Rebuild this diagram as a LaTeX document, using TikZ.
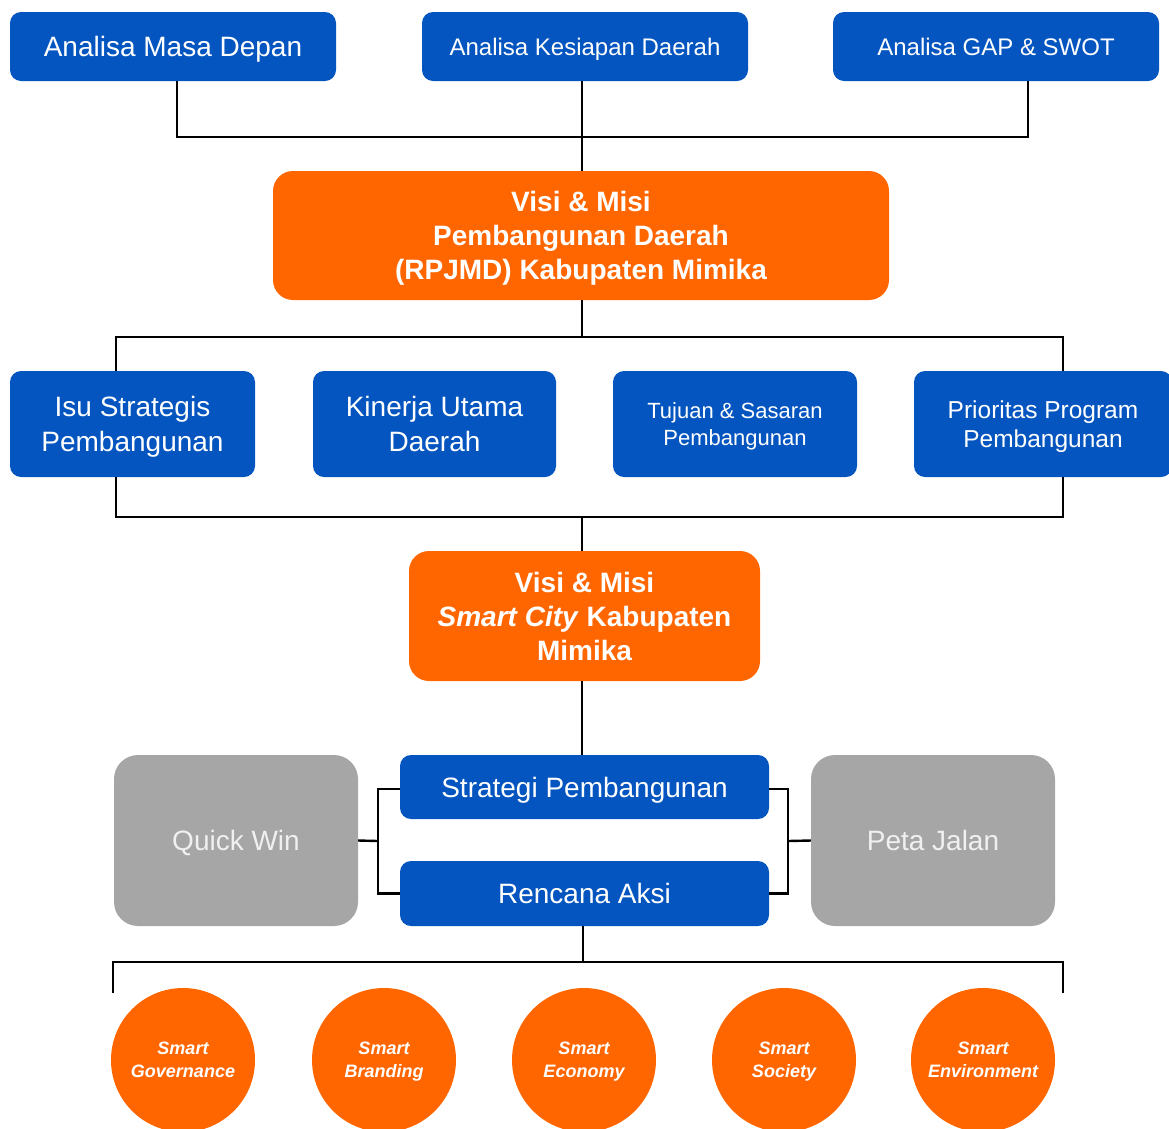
\documentclass[tikz,border=0pt]{standalone}
\usepackage{fontspec}
\setmainfont{Liberation Sans}
\definecolor{bblue}{RGB}{4,85,191}
\definecolor{borange}{RGB}{255,102,0}
\definecolor{bgray}{RGB}{166,166,166}
\begin{document}
\begin{tikzpicture}[x=1pt,y=-1pt,
  box/.style={rectangle, inner sep=0pt, text=white, align=center, text depth=0pt},
  bluebox/.style={box, fill=bblue, rounded corners=11pt},
  orangebox/.style={box, fill=borange, rounded corners=20pt, font=\bfseries\fontsize{28}{34}\selectfont},
  graybox/.style={box, fill=bgray, rounded corners=24pt, text=white!94!black, font=\fontsize{28}{34}\selectfont},
  dot/.style={circle, fill=borange, inner sep=0pt, minimum size=144pt, text=white, align=center, text depth=0pt, font=\bfseries\itshape\fontsize{18}{23}\selectfont},
  conn/.style={line width=2.4pt, black, line join=miter}]
\useasboundingbox (0,0) rectangle (1169,1128);

% top row
\node[bluebox, minimum width=326pt, minimum height=69pt, font=\fontsize{28}{34}\selectfont] (amd) at (173,46.5) {Analisa Masa Depan};
\node[bluebox, minimum width=326pt, minimum height=69pt, font=\fontsize{24}{30}\selectfont] (akd) at (585,46.5) {Analisa Kesiapan Daerah};
\node[bluebox, minimum width=326pt, minimum height=69pt, font=\fontsize{24}{30}\selectfont] (gap) at (996,46.5) {Analisa GAP \& SWOT};

% RPJMD
\node[orangebox, minimum width=616pt, minimum height=129pt] (rpjmd) at (581,235.5) {Visi \& Misi\\Pembangunan Daerah\\(RPJMD) Kabupaten Mimika};

% second row
\node[bluebox, minimum width=245pt, minimum height=106pt, font=\fontsize{28}{35}\selectfont] (isu) at (132.5,424) {Isu Strategis\\Pembangunan};
\node[bluebox, minimum width=243pt, minimum height=106pt, font=\fontsize{28}{35}\selectfont] (kin) at (434.5,424) {Kinerja Utama\\Daerah};
\node[bluebox, minimum width=244pt, minimum height=106pt, font=\fontsize{22}{27}\selectfont] (tuj) at (735,424) {Tujuan \& Sasaran\\Pembangunan};
\node[bluebox, minimum width=258pt, minimum height=106pt, font=\fontsize{24.5}{29}\selectfont] (pri) at (1043,424) {Prioritas Program\\Pembangunan};

% Smart City
\node[orangebox, minimum width=351pt, minimum height=130pt] (sc) at (584.5,616) {Visi \& Misi\\\textit{Smart City} Kabupaten\\Mimika};

% strategy
\node[bluebox, minimum width=369pt, minimum height=64pt, font=\fontsize{28}{34}\selectfont] (strat) at (584.5,787) {Strategi Pembangunan};
\node[bluebox, minimum width=369pt, minimum height=65pt, font=\fontsize{28}{34}\selectfont] (ra) at (584.5,893.5) {Rencana Aksi};
\node[graybox, minimum width=244pt, minimum height=171pt] (qw) at (236,840.5) {Quick Win};
\node[graybox, minimum width=244pt, minimum height=171pt] (pj) at (933,840.5) {Peta Jalan};

% circles
\node[dot] (c1) at (183,1060) {Smart\\Governance};
\node[dot] (c2) at (384,1060) {Smart\\Branding};
\node[dot] (c3) at (584,1060) {Smart\\Economy};
\node[dot] (c4) at (784,1060) {Smart\\Society};
\node[dot] (c5) at (983,1060) {Smart\\Environment};

% junction coordinates
\coordinate (j1) at (582,137);
\coordinate (j2) at (582,337);
\coordinate (j3) at (582,517);
\coordinate (j4) at (583,962);
\coordinate (l2) at (116,0);
\coordinate (r2) at (1063,0);
\coordinate (lb) at (378,841);
\coordinate (rb) at (788,841);
\coordinate (b1) at (113,993);
\coordinate (b2) at (1063,993);

% connectors
\draw[conn] (amd.south -| 177,0) |- (j1) -| (gap.south -| 1028,0);
\draw[conn] (akd.south -| j1) -- (rpjmd.north -| j1);
\draw[conn] (rpjmd.south -| j2) -- (j2);
\draw[conn] (isu.north -| l2) |- (j2) -| (pri.north -| r2);
\draw[conn] (isu.south -| l2) |- (j3) -| (pri.south -| r2);
\draw[conn] (j3) -- (sc.north -| j3);
\draw[conn] (sc.south -| j3) -- (strat.north -| j3);
\draw[conn] (strat.west |- 0,789) -| (lb) |- (ra.west);
\draw[conn] (qw.east) -- (lb);
\draw[conn] (strat.east |- 0,789) -| (rb) |- (ra.east);
\draw[conn] (rb) -- (pj.west);
\draw[conn] (ra.south -| j4) -- (j4);
\draw[conn] (b1) |- (j4) -| (b2);
\end{tikzpicture}
\end{document}
